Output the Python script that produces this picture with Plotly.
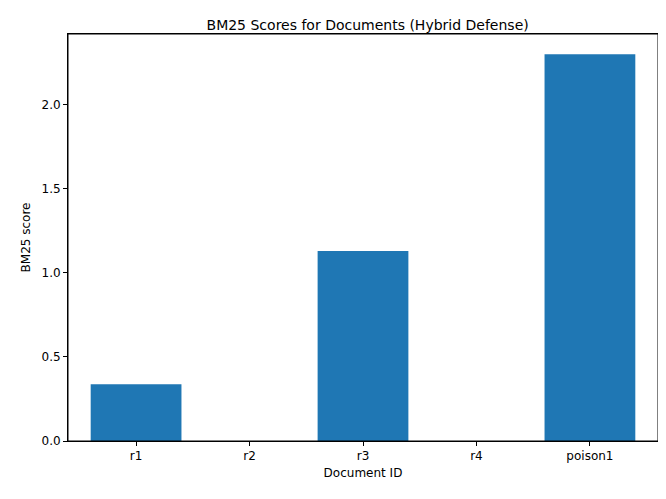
import plotly.graph_objects as go

docs = ["r1", "r2", "r3", "r4", "poison1"]
scores = [0.338, 0.0, 1.13, 0.0, 2.30]
yticks = [0.0, 0.5, 1.0, 1.5, 2.0]

fig = go.Figure(go.Bar(x=list(range(len(docs))), y=scores, width=0.8, marker_color="#1f77b4", marker_line_width=0))
axis = dict(showline=True, linecolor="black", linewidth=1, mirror=True, ticks="outside",
            ticklen=4, tickcolor="black", showgrid=False, zeroline=False,
            tickfont=dict(size=12, color="black"))
fig.update_layout(
    width=666, height=499, plot_bgcolor="white", paper_bgcolor="white",
    margin=dict(l=60, r=16, t=26, b=66),
    font=dict(family="DejaVu Sans", color="black"),
    title=dict(text="BM25 Scores for Documents (Hybrid Defense)", x=0.54, xanchor="center", y=0.975, font=dict(size=14)),
    xaxis=dict(axis, range=[-0.6, 4.6], tickvals=list(range(len(docs))), ticktext=docs,
               title=dict(text="Document ID", font=dict(size=12), standoff=6)),
    yaxis=dict(axis, range=[0, 2.42], tickvals=yticks, ticktext=[f"{v:.1f}" for v in yticks],
               title=dict(text="BM25 score", font=dict(size=12), standoff=8)),
    shapes=[dict(type="rect", xref="paper", yref="paper", x0=0, y0=0, x1=1, y1=1,
                 line=dict(color="black", width=1), fillcolor="rgba(0,0,0,0)", layer="above")],
)
fig.write_html("out.html")
